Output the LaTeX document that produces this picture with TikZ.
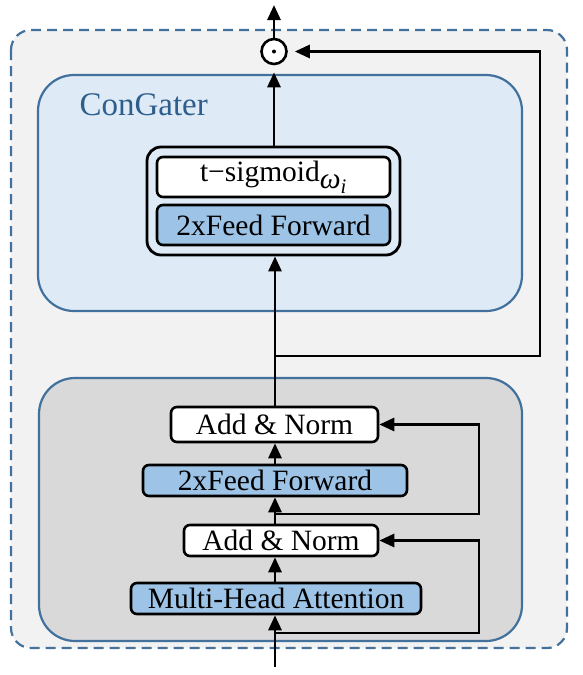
\documentclass[tikz,border=0pt]{standalone}
\usepackage{fontspec}
\setmainfont{Liberation Serif}
\usetikzlibrary{arrows.meta}
\definecolor{edgeblue}{RGB}{65,113,156}
\definecolor{gatefill}{RGB}{222,235,247}
\definecolor{encfill}{RGB}{217,217,217}
\definecolor{outerfill}{RGB}{242,242,242}
\definecolor{boxblue}{RGB}{157,195,230}
\definecolor{labelblue}{RGB}{46,94,140}
\begin{document}
\begin{tikzpicture}[x=1pt,y=-1pt,
    box/.style={draw,line width=2.6pt,rounded corners=6pt,inner sep=0pt,font=\fontsize{29.5}{31}\selectfont},
    whitebox/.style={box,fill=white},
    bluebox/.style={box,fill=boxblue},
    panel/.style={draw=edgeblue,line width=2.2pt,rounded corners=36pt},
    arr/.style={line width=2.8pt,-{Triangle[length=15pt,width=13pt]}}]
      \useasboundingbox (0,0) rectangle (582,675);
      \draw[edgeblue,fill=outerfill,line width=2.2pt,dash pattern=on 10pt off 6pt,rounded corners=20pt]
        (11,30) rectangle (567,648);
      \draw[panel,fill=gatefill] (38,75) rectangle (522,311);
      \draw[panel,fill=encfill] (39,378) rectangle (522,641);
      \node[anchor=base west,text=labelblue,font=\fontsize{33}{35}\selectfont] (gatelabel) at (76,115) {ConGater};

      \node[draw,line width=2.8pt,rounded corners=14pt,fill=gatefill,minimum width=253pt,minimum height=108pt] (gate) at (273.5,201) {};
      \node[whitebox,minimum width=233pt,minimum height=40pt] (tsig) at (273.5,177) {t−sigmoid\raisebox{-7pt}{\itshape ω\textsubscript{i}}};
      \node[bluebox,minimum width=233pt,minimum height=40pt] (gateff) at (273.5,225) {2xFeed Forward};
      \node[draw,circle,line width=2.6pt,minimum size=25pt,inner sep=0pt,fill=white] (odot) at (274,51.5) {};
      \fill (odot.center) circle (2pt);

      \node[whitebox,minimum width=207pt,minimum height=35pt] (an1) at (274.5,424.5) {Add \& Norm};
      \node[bluebox,minimum width=264pt,minimum height=31pt] (ff) at (275,480.5) {2xFeed Forward};
      \node[whitebox,minimum width=194pt,minimum height=31pt] (an2) at (281,540.5) {Add \& Norm};
      \node[bluebox,minimum width=290pt,minimum height=31pt] (mha) at (276,598.5) {Multi-Head Attention};

      \coordinate (in) at (275,667);
      \coordinate (out) at (274,5);
      \coordinate (res1) at (275,633);
      \coordinate (res1r) at (479,633);
      \coordinate (res2) at (275,514);
      \coordinate (res2r) at (479,514);
      \coordinate (tap) at (275,356);
      \coordinate (tapr) at (540,356);

      \begin{scope}[arr]
        \draw (in) -- (in |- mha.south);
        \draw (in |- mha.north) -- (in |- an2.south);
        \draw (in |- an2.north) -- (in |- ff.south);
        \draw (in |- ff.north) -- (in |- an1.south);
        \draw (in |- an1.north) -- (in |- gate.south);
        \draw[shorten >=7pt] (odot.south |- gate.north) -- (odot.south);
        \draw (odot.north) -- (out);
        \draw (res1) -- (res1r) |- (an2.east);
        \draw (res2) -- (res2r) |- (an1.east);
        \draw[shorten >=7pt] (tap) -- (tapr) |- (odot.east);
      \end{scope}
    \end{tikzpicture}
\end{document}
